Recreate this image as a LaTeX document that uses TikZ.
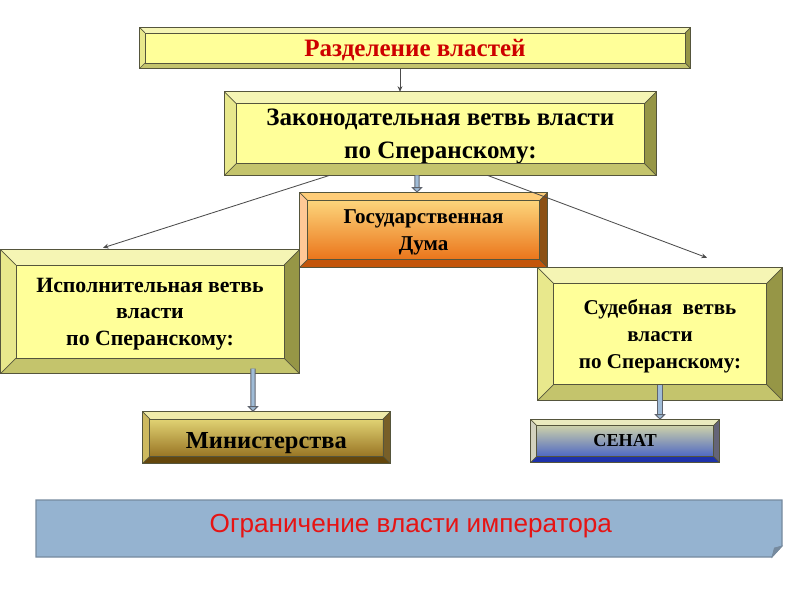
\documentclass[tikz,border=0pt]{standalone}
\usepackage{fontspec}
\setmainfont{Liberation Serif}
\newfontfamily\bannerfont{Liberation Sans}
\usetikzlibrary{positioning}
\usetikzlibrary{calc}
\usetikzlibrary{arrows.meta}

% colours of the frames
\definecolor{paleface}{RGB}{255,255,153}
\definecolor{paletop}{RGB}{245,245,180}
\definecolor{paleleft}{RGB}{232,232,140}
\definecolor{paleright}{RGB}{150,150,70}
\definecolor{palebottom}{RGB}{196,196,108}
\definecolor{dumatop}{RGB}{255,225,135}
\definecolor{dumabot}{RGB}{232,105,15}
\definecolor{dumabevtop}{RGB}{255,205,120}
\definecolor{dumabevright}{RGB}{140,80,20}
\definecolor{dumabevbottom}{RGB}{195,85,10}
\definecolor{dumabevleft}{RGB}{255,200,150}
\definecolor{ministop}{RGB}{238,228,130}
\definecolor{minisbot}{RGB}{140,100,22}
\definecolor{minisbevtop}{RGB}{240,235,170}
\definecolor{minisbevright}{RGB}{120,95,40}
\definecolor{minisbevbottom}{RGB}{100,70,12}
\definecolor{minisbevleft}{RGB}{205,185,95}
\definecolor{senattop}{RGB}{228,228,165}
\definecolor{senatbot}{RGB}{55,85,200}
\definecolor{senatbevtop}{RGB}{235,235,190}
\definecolor{senatbevright}{RGB}{100,100,120}
\definecolor{senatbevbottom}{RGB}{30,50,170}
\definecolor{senatbevleft}{RGB}{210,210,190}
\definecolor{edgegray}{RGB}{85,85,60}
\definecolor{titlered}{RGB}{205,0,0}
\definecolor{bannerred}{RGB}{230,20,20}
\definecolor{bannerblue}{RGB}{149,179,208}
\definecolor{bannerline}{RGB}{118,138,158}
\definecolor{arrowblue}{RGB}{160,188,215}
\definecolor{arrowedge}{RGB}{95,100,110}

% bevelled frame round a node: name, depth, top, right, bottom, left
\newcommand{\bevel}[6]{%
  \fill[#3] (#1.north west) -- (#1.north east) -- ($(#1.north east)+(-#2,-#2)$) -- ($(#1.north west)+(#2,-#2)$) -- cycle;
  \fill[#4] (#1.north east) -- (#1.south east) -- ($(#1.south east)+(-#2,#2)$) -- ($(#1.north east)+(-#2,-#2)$) -- cycle;
  \fill[#5] (#1.south east) -- (#1.south west) -- ($(#1.south west)+(#2,#2)$) -- ($(#1.south east)+(-#2,#2)$) -- cycle;
  \fill[#6] (#1.south west) -- (#1.north west) -- ($(#1.north west)+(#2,-#2)$) -- ($(#1.south west)+(#2,#2)$) -- cycle;
  \draw[frameline] (#1.north west) rectangle (#1.south east);
  \draw[frameline] ($(#1.north west)+(#2,-#2)$) rectangle ($(#1.south east)+(-#2,#2)$);
  \draw[frameline] (#1.north west) -- ++(#2,-#2) (#1.north east) -- ++(-#2,-#2)
    (#1.south east) -- ++(-#2,#2) (#1.south west) -- ++(#2,#2);
}

\begin{document}
\begin{tikzpicture}[
    frameline/.style={draw=edgegray, line width=0.5pt},
    panel/.style={rectangle, inner sep=0pt, align=center, font=\bfseries},
    palebox/.style={panel, fill=paleface},
    headroom/.style={text height=#1},
    footroom/.style={text depth=#1},
    thinarrow/.style={draw=black!70, line width=0.6pt, -{Stealth[length=4pt, width=3.5pt]}},
    blockarrow/.style={draw=arrowedge, line width=0.7pt, double=arrowblue, double distance=2.2pt,
      -{Triangle[length=4pt, width=8pt, fill=arrowblue]}}]
  \useasboundingbox (0,0) rectangle (20,15);

  % Draw the boxes
  \node[palebox, minimum width=13.75cm, minimum height=1cm, text=titlered, headroom=15pt,
    font=\bfseries\fontsize{17.8}{21}\selectfont] (razd) at (10.375,13.8) {Разделение властей};
  \node[palebox, minimum width=10.78cm, minimum height=2.075cm, footroom=-6.9pt,
    font=\bfseries\fontsize{17.8}{23}\selectfont] (zakon) at (11.01,11.66)
    {Законодательная ветвь власти\\по Сперанскому:};
  \node[panel, minimum width=6.175cm, minimum height=1.85cm, top color=dumatop, bottom color=dumabot,
    footroom=-6.4pt, font=\bfseries\fontsize{15}{19.2}\selectfont] (duma) at (10.59,9.25) {Государственная\\Дума};
  \node[palebox, minimum width=7.45cm, minimum height=3.075cm, footroom=-10.9pt,
    font=\bfseries\fontsize{15.5}{18.8}\selectfont] (ispol) at (3.75,7.21)
    {Исполнительная ветвь\\власти\\по Сперанскому:};
  \node[palebox, minimum width=6.1cm, minimum height=3.3cm, footroom=-5.1pt,
    font=\bfseries\fontsize{15}{19}\selectfont] (sud) at (16.5,6.65)
    {Судебная~ ветвь\\власти\\по Сперанскому:};
  \node[panel, minimum width=6.175cm, minimum height=1.275cm, top color=ministop, bottom color=minisbot,
    headroom=18.5pt, font=\bfseries\fontsize{17.4}{20}\selectfont] (minis) at (6.66,4.06) {Министерства};
  \node[panel, minimum width=4.7cm, minimum height=1.05cm, top color=senattop, bottom color=senatbot,
    font=\bfseries\fontsize{13}{16}\selectfont] (senat) at (15.625,3.975) {СЕНАТ};

  % Bevels
  \bevel{razd}{0.13}{paletop}{paleright}{palebottom}{paleleft}
  \bevel{zakon}{0.3}{paletop}{paleright}{palebottom}{paleleft}
  \bevel{duma}{0.2}{dumabevtop}{dumabevright}{dumabevbottom}{dumabevleft}
  \bevel{ispol}{0.38}{paletop}{paleright}{palebottom}{paleleft}
  \bevel{sud}{0.4}{paletop}{paleright}{palebottom}{paleleft}
  \bevel{minis}{0.18}{minisbevtop}{minisbevright}{minisbevbottom}{minisbevleft}
  \bevel{senat}{0.15}{senatbevtop}{senatbevright}{senatbevbottom}{senatbevleft}

  % Connectors
  \draw[thinarrow] ($(razd.south)+(-0.375,0)$) -- ($(zakon.north)+(-1.01,0)$);
  \draw[thinarrow] ($(zakon.south west)+(2.625,0)$) -- ($(ispol.north)+(-1.175,0.05)$);
  \draw[thinarrow] ($(zakon.south west)+(6.575,0)$) -- ($(sud.north)+(1.175,0.25)$);
  \draw[blockarrow] ($(zakon.south)+(-0.585,0)$) -- ($(duma.north)+(-0.165,0)$);
  \draw[blockarrow] ($(ispol.south)+(2.575,0.12)$) -- ($(minis.north)+(-0.335,0)$);
  \draw[blockarrow] ($(sud.south)+(0,0.37)$) -- (senat.north -| sud.south);

  % Bottom banner with folded corner
  \filldraw[fill=bannerblue, draw=bannerline, line width=0.8pt]
    (0.9,2.5) -- (19.55,2.5) -- (19.55,1.35) -- (19.3,1.075) -- (0.9,1.075) -- cycle;
  \filldraw[fill=bannerline, draw=bannerline, line width=0.5pt]
    (19.55,1.35) -- (19.3,1.075) -- (19.36,1.3) -- cycle;
  \node[text=bannerred, font=\bannerfont\fontsize{18.6}{21}\selectfont]
    (limit) at (10.27,1.86) {Ограничение власти императора};
\end{tikzpicture}
\end{document}
